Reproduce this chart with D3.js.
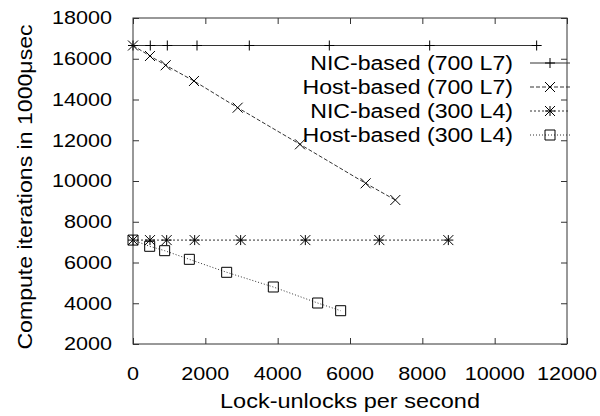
<!DOCTYPE html>
<html>
<head lang="en">
  <meta charset="UTF-8">
  <title>Lock-unlocks vs compute iterations</title>
  <script src="https://cdn.jsdelivr.net/npm/d3@7"></script>
</head>
<style>
  body { margin: 0; background: #fff; }
  svg text { font-family: "Liberation Sans", Arial, sans-serif; font-size: 21px; fill: #000; }
  svg text.tick-label { font-size: 18px; }
  .frame { fill: none; stroke: #333; stroke-width: 1; }
</style>
<body>
<svg id="chart"></svg>
<script>
  var seriesNames = ['NIC-based (700 L7)', 'Host-based (700 L7)', 'NIC-based (300 L4)', 'Host-based (300 L4)'];
  var nic700x = [0, 478, 949, 1770, 3216, 5428, 8203, 11161];
  var nic700y = [16650, 16650, 16650, 16650, 16650, 16650, 16650, 16650];
  var host700x = [0, 470, 904, 1686, 2894, 4617, 6433, 7253];
  var host700y = [16650, 16135, 15680, 14908, 13598, 11800, 9887, 9067];
  var nic300x = [0, 470, 931, 1705, 2976, 4765, 6811, 8719];
  var nic300y = [7100, 7100, 7100, 7100, 7100, 7100, 7100, 7100];
  var host300x = [0, 461, 875, 1558, 2590, 3880, 5106, 5742];
  var host300y = [7100, 6795, 6580, 6156, 5519, 4798, 4012, 3634];
  var xTicks = [0, 2000, 4000, 6000, 8000, 10000, 12000];
  var yTicks = [2000, 4000, 6000, 8000, 10000, 12000, 14000, 16000, 18000];

  var width = 600, height = 416;
  var m = { left: 133, right: 567, top: 18, bottom: 344 };

  var x = d3.scaleLinear().domain([0, 12000]).range([m.left, m.right]);
  var y = d3.scaleLinear().domain([2000, 18000]).range([m.bottom, m.top]);

  var svg = d3.select('#chart').attr('width', width).attr('height', height);

  function zip(xs, ys) {
    return xs.map(function (v, i) { return [v, ys[i]]; });
  }

  var series = [
    { name: seriesNames[0], pts: zip(nic700x, nic700y), dash: null, mark: 'plus' },
    { name: seriesNames[1], pts: zip(host700x, host700y), dash: '4,2', mark: 'cross' },
    { name: seriesNames[2], pts: zip(nic300x, nic300y), dash: '2,2', mark: 'star' },
    { name: seriesNames[3], pts: zip(host300x, host300y), dash: '1,2', mark: 'square' }
  ];

  // text in the reference is wider than it is tall, so stretch it sideways
  function label(g, tx, ty, anchor, str, stretch, rot) {
    return g.append('text')
      .attr('transform', 'translate(' + tx + ',' + ty + ')' + (rot ? ' rotate(' + rot + ')' : '') + ' scale(' + stretch + ',1)')
      .attr('dy', '0.35em').attr('text-anchor', anchor).text(str);
  }

  // ticks point inward, mirrored on top and right
  var tickLen = 6;
  svg.append('g').attr('transform', 'translate(0,' + m.bottom + ')')
    .call(d3.axisBottom(x).tickValues(xTicks).tickSize(-tickLen).tickFormat(''))
    .call(styleAxis);
  svg.append('g').attr('transform', 'translate(0,' + m.top + ')')
    .call(d3.axisTop(x).tickValues(xTicks).tickSize(-tickLen).tickFormat(''))
    .call(styleAxis);
  svg.append('g').attr('transform', 'translate(' + m.left + ',0)')
    .call(d3.axisLeft(y).tickValues(yTicks).tickSize(-tickLen).tickFormat(''))
    .call(styleAxis);
  svg.append('g').attr('transform', 'translate(' + m.right + ',0)')
    .call(d3.axisRight(y).tickValues(yTicks).tickSize(-tickLen).tickFormat(''))
    .call(styleAxis);

  function styleAxis(g) {
    g.select('.domain').remove();
    g.selectAll('.tick line').attr('stroke', '#333');
  }

  xTicks.forEach(function (t) { label(svg, x(t), 374, 'middle', t, 1.2).attr('class', 'tick-label'); });
  yTicks.forEach(function (t) { label(svg, 112, y(t), 'end', t, 1.2).attr('class', 'tick-label'); });

  svg.append('rect').attr('class', 'frame')
    .attr('x', m.left).attr('y', m.top).attr('width', m.right - m.left).attr('height', m.bottom - m.top);

  var line = d3.line().x(function (d) { return x(d[0]); }).y(function (d) { return y(d[1]); });

  function drawMark(g, kind, cx, cy) {
    var r = 5;
    var p = d3.path();
    if (kind === 'plus' || kind === 'star') {
      p.moveTo(cx - r, cy); p.lineTo(cx + r, cy);
      p.moveTo(cx, cy - r); p.lineTo(cx, cy + r);
    }
    if (kind === 'cross' || kind === 'star') {
      p.moveTo(cx - r, cy - r); p.lineTo(cx + r, cy + r);
      p.moveTo(cx - r, cy + r); p.lineTo(cx + r, cy - r);
    }
    if (kind === 'square') {
      p.rect(cx - r, cy - r, 2 * r, 2 * r);
    }
    g.append('path').attr('d', p.toString())
      .attr('fill', 'none').attr('stroke', '#000').attr('stroke-width', 1);
  }

  series.forEach(function (s) {
    svg.append('path').datum(s.pts).attr('d', line)
      .attr('fill', 'none').attr('stroke', '#333').attr('stroke-width', 1)
      .attr('stroke-dasharray', s.dash);
    var g = svg.append('g');
    s.pts.forEach(function (d) { drawMark(g, s.mark, x(d[0]), y(d[1])); });
  });

  // legend
  var legY = [63, 87, 111, 135];
  series.forEach(function (s, i) {
    label(svg, 513, legY[i], 'end', s.name, 1.1);
    svg.append('line').attr('x1', 530).attr('x2', 570).attr('y1', legY[i]).attr('y2', legY[i])
      .attr('stroke', '#333').attr('stroke-width', 1).attr('stroke-dasharray', s.dash);
    drawMark(svg, s.mark, 550, legY[i]);
  });

  label(svg, (m.left + m.right) / 2, 401, 'middle', 'Lock-unlocks per second', 1.12);
  label(svg, 25, 187, 'middle', 'Compute iterations in 1000μsec', 1.1, -90);
</script>
</body>
</html>
